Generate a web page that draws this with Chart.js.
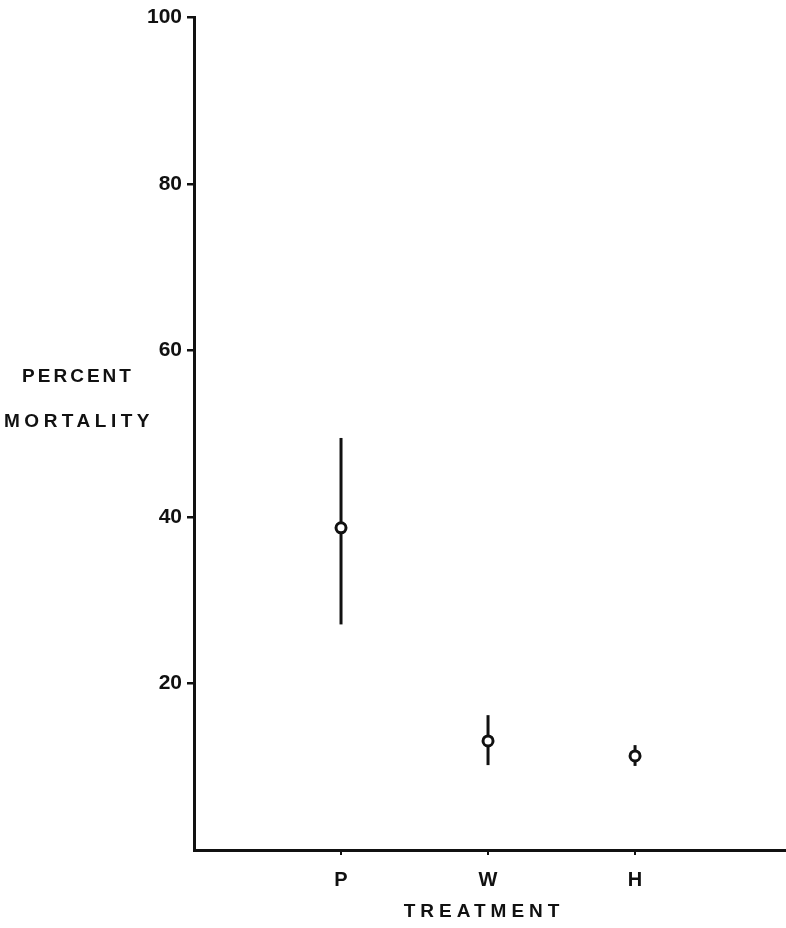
<!DOCTYPE html>
<html>
<head>
<meta charset="utf-8">
<title>Percent mortality by treatment</title>
<script src="https://cdn.jsdelivr.net/npm/chart.js@4.4.1/dist/chart.umd.min.js"></script>
<style>
  html, body { margin: 0; padding: 0; background: #fff; }
  #chart { display: block; }
</style>
</head>
<body>
<canvas id="chart" width="786" height="928"></canvas>
<script>
// values
const treatments    = ['P', 'W', 'H'];
const treatmentPos  = [1, 2, 3];
const meanMortality = [38.7, 13.1, 11.3];
const upperBound    = [49.5, 16.2, 12.6];
const lowerBound    = [27.1, 10.2, 10.1];
const yTicks        = [20, 40, 60, 80, 100];

const FONT = '"Liberation Sans", Arial, Helvetica, sans-serif';
const INK = '#111';

// vertical bars for each treatment, drawn under the circles
const errorBars = {
  id: 'errorBars',
  beforeDatasetsDraw(chart) {
    const { ctx, scales: { x, y } } = chart;
    ctx.save();
    ctx.strokeStyle = INK;
    ctx.lineWidth = 3;
    treatmentPos.forEach((pos, i) => {
      const px = x.getPixelForValue(pos);
      ctx.beginPath();
      ctx.moveTo(px, y.getPixelForValue(upperBound[i]));
      ctx.lineTo(px, y.getPixelForValue(lowerBound[i]));
      ctx.stroke();
    });
    ctx.restore();
  }
};

// axis titles: the y title sits flat, left of the ticks, on two lines
const axisTitles = {
  id: 'axisTitles',
  afterDraw(chart) {
    const { ctx, scales: { x, y } } = chart;
    ctx.save();
    ctx.fillStyle = INK;
    ctx.textAlign = 'center';
    ctx.textBaseline = 'middle';

    const y60 = y.getPixelForValue(60);
    ctx.font = `bold 19px ${FONT}`;
    ctx.letterSpacing = '3px';
    ctx.fillText('PERCENT', 78, y60 + 26);
    ctx.letterSpacing = '4.5px';
    ctx.fillText('MORTALITY', 79, y60 + 71);

    ctx.font = `bold 19px ${FONT}`;
    ctx.letterSpacing = '5px';
    const cx = x.getPixelForValue(treatmentPos[1]) - 4;
    ctx.fillText('TREATMENT', cx, 912);
    ctx.restore();
  }
};

new Chart(document.getElementById('chart').getContext('2d'), {
  type: 'scatter',
  data: {
    datasets: [{
      data: treatmentPos.map((pos, i) => ({ x: pos, y: meanMortality[i] })),
      pointRadius: 5,
      pointBorderWidth: 3,
      pointBorderColor: INK,
      pointBackgroundColor: '#fff',
      pointHoverRadius: 5,
    }]
  },
  plugins: [errorBars, axisTitles],
  options: {
    responsive: false,
    animation: false,
    layout: { autoPadding: false, padding: { top: 16, right: 1, left: 0, bottom: 0 } },
    plugins: {
      legend: { display: false },
      tooltip: { enabled: false },
    },
    scales: {
      x: {
        type: 'linear',
        min: 0,
        max: 4.02,
        afterBuildTicks(scale) {
          scale.ticks = treatmentPos.map(value => ({ value }));
        },
        afterFit(scale) { scale.height = 78; },
        border: { display: true, color: INK, width: 3 },
        grid: { drawOnChartArea: false, drawTicks: true, tickLength: 5, color: INK, lineWidth: 2 },
        ticks: {
          padding: 13,
          color: INK,
          font: { family: FONT, size: 20, weight: 'bold' },
          callback: value => treatments[treatmentPos.indexOf(value)] ?? '',
        },
      },
      y: {
        min: 0,
        max: 100,
        afterBuildTicks(scale) {
          scale.ticks = yTicks.map(value => ({ value }));
        },
        afterFit(scale) { scale.width = 194; },
        border: { display: true, color: INK, width: 3 },
        grid: { drawOnChartArea: false, drawTicks: true, tickLength: 7, color: INK, lineWidth: 2.5 },
        ticks: {
          padding: 5,
          color: INK,
          font: { family: FONT, size: 21, weight: 'bold' },
        },
      },
    },
  },
});
</script>
</body>
</html>
